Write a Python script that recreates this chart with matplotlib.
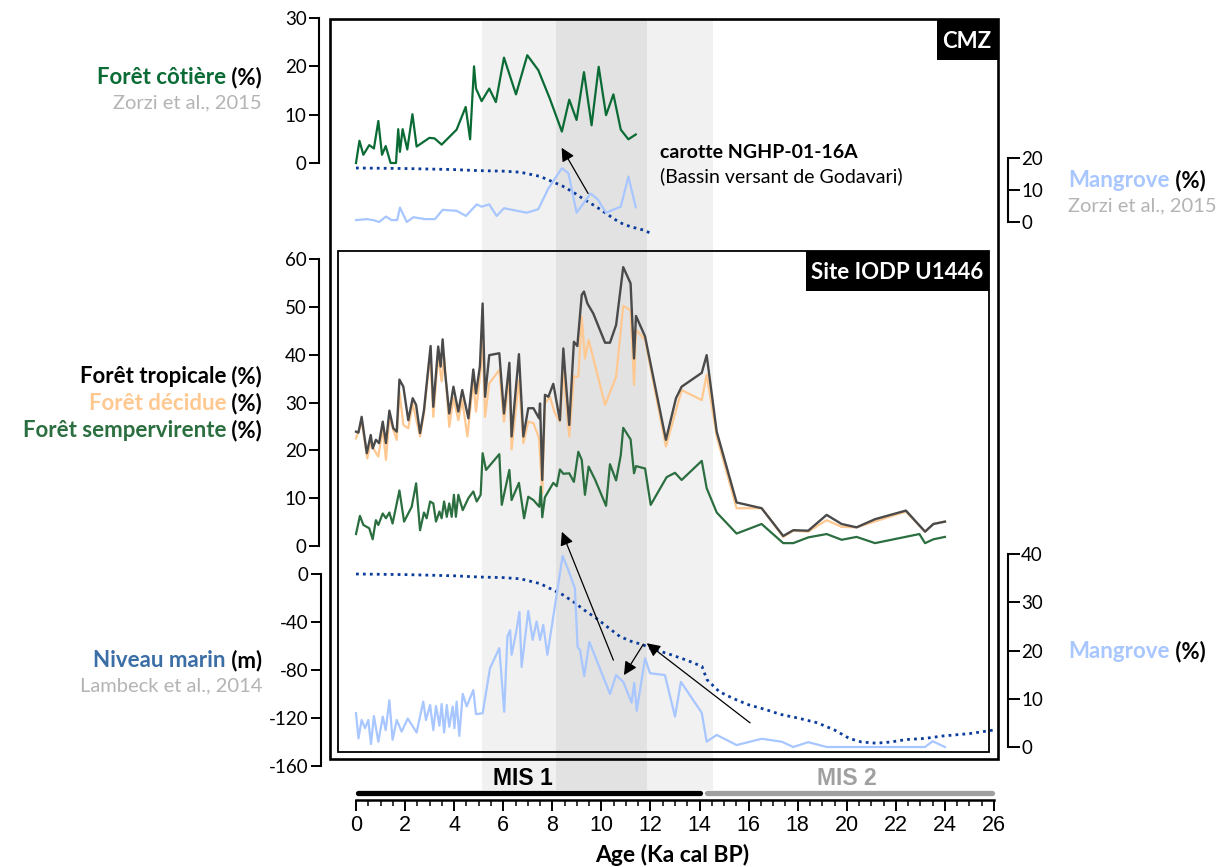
import matplotlib
matplotlib.use('Agg')
import matplotlib.pyplot as plt
from matplotlib.transforms import Affine2D, blended_transform_factory
from matplotlib.patches import Rectangle

plt.rcParams['font.family'] = ['Lato', 'DejaVu Sans']
plt.rcParams['axes.unicode_minus'] = False

# ---- data (ages in ka cal BP) ----
# CMZ core NGHP-01-16A, coastal forest (%)
cot_age = [0, 0.14, 0.3, 0.54, 0.73, 0.91, 1.06, 1.21, 1.41, 1.63, 1.72, 1.79, 1.9, 2.09, 2.3, 2.47,
           2.99, 3.2, 3.49, 4.1, 4.47, 4.65, 4.81, 4.89, 5.12, 5.43, 5.7, 6.03, 6.52, 6.98, 7.43,
           7.9, 8.39, 8.69, 8.99, 9.29, 9.6, 9.89, 10.19, 10.49, 10.79, 11.1, 11.4]
cot_val = [0, 4.6, 1.7, 3.7, 3.0, 8.7, 1.7, 3.5, 0, 0, 7.0, 2.3, 7.0, 2.8, 10.1, 3.4,
           5.2, 5.1, 3.8, 6.9, 11.6, 4.9, 20.0, 15.4, 12.8, 15.4, 12.6, 21.8, 14.2, 22.3, 19.2,
           13.3, 6.5, 13.1, 8.9, 18.8, 7.8, 19.9, 9.9, 14.2, 6.9, 4.9, 5.9]

# CMZ mangrove (%)
mg1_age = [0, 0.44, 0.7, 0.94, 1.22, 1.45, 1.68, 1.79, 2.07, 2.34, 2.81, 3.22, 3.53, 4.1, 4.48,
           4.92, 5.12, 5.43, 5.73, 6.03, 6.96, 7.43, 7.84, 8.39, 8.66, 8.99, 9.56, 9.85, 10.19,
           10.79, 11.1, 11.4]
mg1_val = [0.6, 0.9, 0.6, 0, 1.7, 0.6, 0.6, 4.5, 0, 1.5, 0.9, 0.9, 3.8, 3.5, 1.9,
           5.5, 4.8, 5.5, 1.9, 4.3, 2.9, 4.0, 10.5, 16.8, 15.2, 2.9, 8.9, 7.1, 2.9,
           4.8, 14.2, 4.6]

# Site IODP U1446, tropical forest (%)
tro_age = [0, 0.1, 0.23, 0.44, 0.6, 0.68, 0.81, 0.94, 1.09, 1.22, 1.36, 1.52, 1.66, 1.77, 1.93,
           2.13, 2.31, 2.45, 2.61, 2.77, 3.04, 3.15, 3.35, 3.45, 3.53, 3.63, 3.8, 3.97, 4.17,
           4.33, 4.58, 4.78, 4.89, 5.05, 5.16, 5.26, 5.43, 5.84, 6.03, 6.25, 6.34, 6.64, 6.82,
           7.02, 7.23, 7.46, 7.5, 7.59, 7.7, 7.84, 8.04, 8.31, 8.45, 8.52, 8.69, 8.88, 9.02,
           9.2, 9.29, 9.43, 9.67, 10.15, 10.35, 10.6, 10.89, 11.19, 11.33, 11.41, 11.78, 12.63,
           13.04, 13.27, 14.09, 14.29, 14.7, 15.51, 16.53, 17.41, 17.82, 18.43, 19.18, 19.79,
           20.4, 21.15, 22.41, 23.19, 23.53, 24.0]
tro_val = [23.9, 23.7, 27.0, 19.4, 23.2, 20.4, 22.2, 21.5, 26.0, 21.5, 28.3, 24.6, 23.9, 34.8, 33.3,
           26.3, 30.9, 29.5, 23.6, 28.4, 41.8, 29.1, 41.7, 37.5, 43.2, 36.4, 27.7, 33.3, 28.1,
           32.6, 26.7, 36.9, 31.9, 37.6, 50.7, 31.2, 39.9, 40.3, 27.7, 38.3, 22.9, 40.1, 22.9,
           28.8, 28.8, 26.7, 29.8, 13.8, 31.6, 31.2, 33.9, 26.3, 41.3, 36.4, 25.3, 42.7, 41.8,
           52.5, 53.2, 50.7, 48.6, 42.5, 42.5, 46.2, 58.3, 54.9, 39.2, 48.1, 43.8, 22.2,
           30.9, 33.3, 36.2, 39.9, 23.9, 9.1, 7.9, 2.1, 3.3, 3.2, 6.5, 4.6,
           3.9, 5.6, 7.4, 3.0, 4.6, 5.1]

# deciduous forest (%)
dec_age = [0, 0.23, 0.46, 0.6, 0.73, 0.91, 1.09, 1.22, 1.36, 1.66, 1.77, 1.93, 2.13, 2.31, 2.61,
           2.77, 3.02, 3.15, 3.35, 3.49, 3.59, 3.8, 3.97, 4.17, 4.33, 4.54, 4.78, 4.89, 5.08,
           5.16, 5.26, 5.43, 5.84, 6.03, 6.25, 6.34, 6.64, 6.82, 7.02, 7.23, 7.46, 7.59, 7.7,
           7.9, 8.11, 8.31, 8.45, 8.69, 8.88, 9.06, 9.2, 9.33, 9.48, 10.15, 10.6, 10.89, 11.19,
           11.33, 11.41, 11.78, 12.63, 13.27, 14.09, 14.29, 14.7, 15.51, 16.53, 17.41, 17.82,
           18.43, 19.18, 19.79, 20.4, 22.41, 23.19, 23.53, 24.0]
dec_val = [22.5, 26.0, 18.3, 21.8, 20.2, 18.7, 24.6, 18.0, 26.7, 22.2, 32.3, 25.3, 24.6, 29.8, 22.9,
           27.7, 40.3, 27.0, 39.9, 34.4, 39.6, 24.9, 30.9, 26.3, 30.5, 22.9, 34.7, 28.1, 36.8,
           44.1, 27.0, 34.0, 36.8, 26.0, 35.4, 20.2, 34.7, 21.5, 26.0, 25.7, 22.5, 11.0, 29.8,
           31.2, 27.7, 26.0, 36.4, 22.9, 35.4, 35.4, 47.9, 39.2, 43.1, 29.5, 35.4, 50.2, 49.3,
           33.7, 45.2, 43.1, 20.8, 32.6, 30.5, 35.8, 22.9, 7.9, 7.9, 1.9, 3.2,
           3.0, 5.4, 4.0, 3.9, 7.2, 3.0, 4.6, 5.1]

# evergreen forest (%)
sem_age = [0, 0.16, 0.3, 0.54, 0.68, 0.81, 0.91, 1.09, 1.22, 1.36, 1.49, 1.77, 1.96, 2.27, 2.45,
           2.61, 2.77, 2.88, 3.02, 3.15, 3.26, 3.4, 3.49, 3.59, 3.7, 3.8, 3.9, 3.99, 4.07, 4.17,
           4.35, 4.58, 4.78, 4.92, 5.08, 5.16, 5.3, 5.84, 5.94, 6.25, 6.34, 6.64, 6.85, 7.02,
           7.23, 7.47, 7.53, 7.59, 7.7, 8.04, 8.18, 8.31, 8.45, 8.69, 8.88, 9.06, 9.2, 9.33,
           9.48, 9.74, 10.19, 10.35, 10.6, 10.79, 10.89, 11.19, 11.33, 11.41, 11.78, 12.01,
           12.66, 13.0, 13.27, 14.09, 14.29, 14.7, 15.51, 16.53, 17.41, 17.82, 18.43, 19.18,
           19.79, 20.4, 21.15, 22.96, 23.19, 23.53, 24.0]
sem_val = [2.5, 6.3, 4.4, 3.7, 1.4, 5.4, 4.4, 6.8, 5.8, 7.0, 4.7, 11.6, 5.1, 8.2, 13.1,
           3.3, 7.0, 5.8, 9.3, 8.9, 5.1, 7.2, 5.8, 9.3, 6.1, 8.9, 6.1, 10.7, 6.1, 10.7,
           7.5, 10.0, 11.4, 9.3, 10.7, 19.4, 15.9, 19.2, 8.6, 15.9, 9.6, 13.2, 5.8, 10.3,
           9.6, 8.2, 12.4, 6.0, 10.2, 13.2, 12.5, 16.0, 15.1, 15.2, 13.4, 19.7, 18.0, 10.7,
           16.6, 13.9, 8.4, 17.1, 13.7, 19.0, 24.7, 22.3, 15.2, 16.7, 16.2, 8.6,
           14.4, 15.3, 13.8, 17.8, 12.1, 7.0, 2.6, 4.6, 0.6, 0.6, 1.8, 2.5,
           1.3, 1.9, 0.6, 2.5, 0.6, 1.4, 1.9]

# U1446 mangrove (%)
mg_age = [0, 0.1, 0.23, 0.37, 0.5, 0.61, 0.73, 0.91, 1.09, 1.21, 1.36, 1.49, 1.66, 1.86, 2.11,
          2.47, 2.74, 2.85, 3.02, 3.15, 3.26, 3.4, 3.49, 3.59, 3.7, 3.8, 3.94, 4.01, 4.1, 4.21,
          4.35, 4.51, 4.78, 4.89, 5.16, 5.46, 5.84, 6.04, 6.17, 6.28, 6.34, 6.52, 6.66, 6.75,
          7.02, 7.2, 7.36, 7.5, 7.63, 7.8, 8.42, 8.65, 8.92, 9.03, 9.13, 9.3, 9.51, 10.35,
          10.6, 10.89, 11.23, 11.34, 11.44, 11.78, 11.98, 12.59, 13.0, 13.24, 14.09, 14.29,
          14.7, 15.51, 16.53, 17.35, 17.82, 18.43, 19.18, 23.19, 23.5, 24.0]
mg_val = [7.0, 1.8, 5.6, 3.9, 5.6, 0.6, 6.4, 1.1, 6.3, 3.5, 9.7, 1.5, 5.6, 3.2, 5.9,
          3.0, 9.4, 5.6, 8.7, 3.5, 8.5, 4.4, 8.9, 3.0, 8.7, 4.2, 8.4, 3.9, 9.4, 2.3,
          11.0, 8.4, 11.8, 6.8, 7.0, 16.3, 20.5, 7.3, 22.9, 24.2, 19.1, 23.6, 28.0, 16.6,
          28.2, 22.2, 26.0, 22.2, 25.3, 19.1, 39.6, 36.7, 32.9, 20.7, 20.1, 14.7, 21.8, 11.0,
          14.9, 13.5, 9.2, 13.3, 7.5, 18.4, 15.3, 14.9, 6.3, 13.5, 7.1, 1.1,
          2.5, 0.4, 1.7, 1.1, 0, 1.0, 0, 0, 1.2, 0]

# sea level (m), Lambeck et al. 2014
sl_age = [0, 2, 4, 5, 6, 6.7, 7.5, 8, 8.4, 8.85, 9.3, 9.8, 10.3, 10.75, 11.2, 11.7, 12.0, 12.8,
          13.5, 14.1, 14.3, 14.8, 15.4, 16, 16.7, 17.3, 18, 18.8, 19.5, 20.1, 20.6, 21.2, 21.8,
          22.4, 23.2, 23.9, 25, 26]
sl_val = [0, -0.5, -1.5, -2.5, -3, -4, -8, -13, -17, -23, -30, -37, -45, -52, -56, -59, -62, -67,
          -72, -77, -88, -98, -104, -109, -113, -117, -120, -124, -130, -137, -140, -141, -140,
          -138, -137, -135, -133, -130]

mis1_band = [5.13, 14.55]
mis1_core = [8.15, 11.86]
mis_bars = [(0.1, 14.0), (14.3, 25.9)]
mis_names = ['MIS 1', 'MIS 2']
mis_centres = [6.8, 20.0]

# ---- layout helpers (pixel geometry of the 1228x867 image) ----
W, H = 1228, 867
X0, X1 = 356, 994          # pixel columns of 0 and 26 ka
fig = plt.figure(figsize=(W / 100, H / 100), dpi=100)
px = Affine2D().scale(1, -1).translate(0, H)   # top-left origin pixels

GREEN = '#0b6b35'
GREEN2 = '#2b6e3f'
GREY = '#4a4a4a'
PEACH = '#ffc890'
MANG = '#a8c6ff'
SEA = '#0b3c9c'
REF = '#b4b4b4'
LAB = 16          # size of axis titles
TICK = 13.5


def data_axes(vmin, vmax, ypx_min, ypx_max):
    ax = fig.add_axes([X0 / W, 1 - ypx_min / H, (X1 - X0) / W, (ypx_min - ypx_max) / H])
    ax.set_xlim(0, 26)
    ax.set_ylim(vmin, vmax)
    ax.patch.set_visible(False)
    for s in ax.spines.values():
        s.set_visible(False)
    ax.set_xticks([])
    ax.set_yticks([])
    return ax


def left_axis(ax, ticks, xs=319):
    sp = ax.spines['left']
    sp.set_visible(True)
    sp.set_position(('outward', (X0 - xs) * 0.72))
    sp.set_linewidth(1.5)
    sp.set_bounds(min(ticks), max(ticks))
    ax.set_yticks(ticks)
    ax.tick_params(axis='y', length=7, width=1.4, labelsize=TICK, pad=2)


def right_axis(ax, ticks, xs=1008):
    sp = ax.spines['right']
    sp.set_visible(True)
    sp.set_position(('outward', (xs - X1) * 0.72))
    sp.set_linewidth(1.5)
    sp.set_bounds(min(ticks), max(ticks))
    ax.yaxis.tick_right()
    ax.set_yticks(ticks)
    ax.tick_params(axis='y', length=8.5, width=1.4, labelsize=TICK, pad=1)


def mixed(x, y, parts, ha='right', size=LAB):
    r = fig.canvas.get_renderer()
    seq = parts[::-1] if ha == 'right' else parts
    for s, c, w in seq:
        t = fig.text(x, y, s, color=c, fontsize=size, fontweight=w, ha=ha,
                     va='baseline', transform=px)
        wd = t.get_window_extent(r).width
        x = x - wd if ha == 'right' else x + wd


# background shading
bg = fig.add_axes([X0 / W, 1 - 790 / H, (X1 - X0) / W, (790 - 20) / H])
bg.set_xlim(0, 26)
bg.axis('off')
bg.axvspan(*mis1_band, color='#f1f1f1', lw=0)
bg.axvspan(*mis1_core, color='#e2e2e2', lw=0)

# ---- CMZ panel ----
ax_cot = data_axes(0, 30, 163, 18)
left_axis(ax_cot, [0, 10, 20, 30])
ax_cot.plot(cot_age, cot_val, color=GREEN, lw=1.6, clip_on=False)

ax_sl1 = data_axes(-70, 0, 168 + 70 * 1.05, 168)
top = [i for i, a in enumerate(sl_age) if a <= 12]
ax_sl1.plot([sl_age[i] for i in top], [sl_val[i] for i in top], color=SEA, lw=2.0,
            ls=(0, (1, 1.5)), clip_on=False)

ax_mg1 = data_axes(0, 20, 222, 158)
right_axis(ax_mg1, [0, 10, 20])
ax_mg1.plot(mg1_age, mg1_val, color=MANG, lw=1.6, clip_on=False)
ax_mg1.annotate('', xy=(8.38, 23.2), xytext=(9.46, 8.9), annotation_clip=False,
                arrowprops=dict(arrowstyle='-|>', lw=0.9, color='black',
                                mutation_scale=20, shrinkA=0, shrinkB=0))

# ---- U1446 panel ----
ax_mid = data_axes(0, 60, 546, 259)
left_axis(ax_mid, [0, 10, 20, 30, 40, 50, 60])
ax_mid.plot(dec_age, dec_val, color=PEACH, lw=1.6, clip_on=False)
ax_mid.plot(tro_age, tro_val, color=GREY, lw=1.7, clip_on=False)
ax_mid.plot(sem_age, sem_val, color=GREEN2, lw=1.6, clip_on=False)

ax_sl = data_axes(-160, 0, 766, 574)
left_axis(ax_sl, [0, -40, -80, -120, -160], xs=321)
ax_sl.plot(sl_age, sl_val, color=SEA, lw=2.0, ls=(0, (1, 1.5)), clip_on=False)

ax_mg = data_axes(0, 40, 747, 554)
right_axis(ax_mg, [0, 10, 20, 30, 40])
ax_mg.plot(mg_age, mg_val, color=MANG, lw=1.6, clip_on=False)
arrows = [((8.39, 44.6), (10.49, 18.0)), ((10.92, 14.9), (11.71, 21.3)),
          ((11.85, 21.5), (16.06, 5.0))]
for head, tail in arrows:
    ax_mg.annotate('', xy=head, xytext=tail, annotation_clip=False,
                   arrowprops=dict(arrowstyle='-|>', lw=0.9, color='black',
                                   mutation_scale=20, shrinkA=0, shrinkB=0))

# ---- age axis ----
ax_x = fig.add_axes([X0 / W, 1 - 800 / H, (X1 - X0) / W, 10 / H])
ax_x.set_xlim(0, 26)
ax_x.patch.set_visible(False)
for k in ['top', 'left', 'right']:
    ax_x.spines[k].set_visible(False)
ax_x.spines['bottom'].set_linewidth(1.8)
ax_x.set_yticks([])
ax_x.set_xticks(range(0, 27, 2))
ax_x.set_xticks([i / 2 for i in range(53)], minor=True)
ax_x.tick_params(axis='x', which='major', length=8, width=1.4, pad=3)
ax_x.tick_params(axis='x', which='minor', length=4.5, width=1.1)
for lab in ax_x.get_xticklabels():
    lab.set_fontfamily('Liberation Sans')
    lab.set_fontsize(15.5)
fig.text(672, 862, 'Age (Ka cal BP)', fontsize=16.5, fontweight='bold', ha='center',
         va='baseline', transform=px)

mis_tr = blended_transform_factory(ax_x.transData, px)
for (a, b), name, c, col in zip(mis_bars, mis_names, mis_centres, ['black', '#a0a0a0']):
    ax_x.plot([a, b], [793, 793], color=col, lw=3.8, solid_capstyle='round',
              transform=mis_tr, clip_on=False)
    ax_x.text(c, 785, name, color=col, fontsize=16.5, fontweight='bold',
              family='Liberation Sans', ha='center', va='baseline', transform=mis_tr)

# ---- frames and titles ----
fig.add_artist(Rectangle((330, 19), 668, 740, fill=False, ec='black', lw=1.9, transform=px))
fig.add_artist(Rectangle((338, 251), 651, 501, fill=False, ec='black', lw=1.3, transform=px))
fig.add_artist(Rectangle((937, 19), 61, 41, fc='black', ec='black', lw=0, transform=px))
fig.add_artist(Rectangle((806, 251), 183, 40, fc='black', ec='black', lw=0, transform=px))
fig.text(967, 48, 'CMZ', color='white', fontsize=16, fontweight='bold', ha='center',
         va='baseline', transform=px)
fig.text(897, 279, 'Site IODP U1446', color='white', fontsize=16, fontweight='bold',
         ha='center', va='baseline', transform=px)
fig.text(660, 158, 'carotte NGHP-01-16A', fontsize=14, fontweight='bold', va='baseline',
         transform=px)
fig.text(660, 182, '(Bassin versant de Godavari)', fontsize=14, va='baseline', transform=px)

# ---- axis titles ----
mixed(262, 84, [('Forêt côtière', GREEN, 'bold'), (' (%)', 'black', 'bold')])
mixed(262, 108, [('Zorzi et al., 2015', REF, 'normal')], size=14.5)
mixed(262, 383, [('Forêt tropicale', 'black', 'bold'), (' (%)', 'black', 'bold')])
mixed(262, 410, [('Forêt décidue', PEACH, 'bold'), (' (%)', 'black', 'bold')])
mixed(262, 437, [('Forêt sempervirente', GREEN2, 'bold'), (' (%)', 'black', 'bold')])
mixed(262, 667, [('Niveau marin', '#3a6ea5', 'bold'), (' (m)', 'black', 'bold')])
mixed(262, 691, [('Lambeck et al., 2014', REF, 'normal')], size=14.5)
mixed(1068, 187, [('Mangrove', MANG, 'bold'), (' (%)', 'black', 'bold')], ha='left')
mixed(1068, 211, [('Zorzi et al., 2015', REF, 'normal')], ha='left', size=14.5)
mixed(1068, 658, [('Mangrove', MANG, 'bold'), (' (%)', 'black', 'bold')], ha='left')

fig.savefig('out.png', dpi=100)
